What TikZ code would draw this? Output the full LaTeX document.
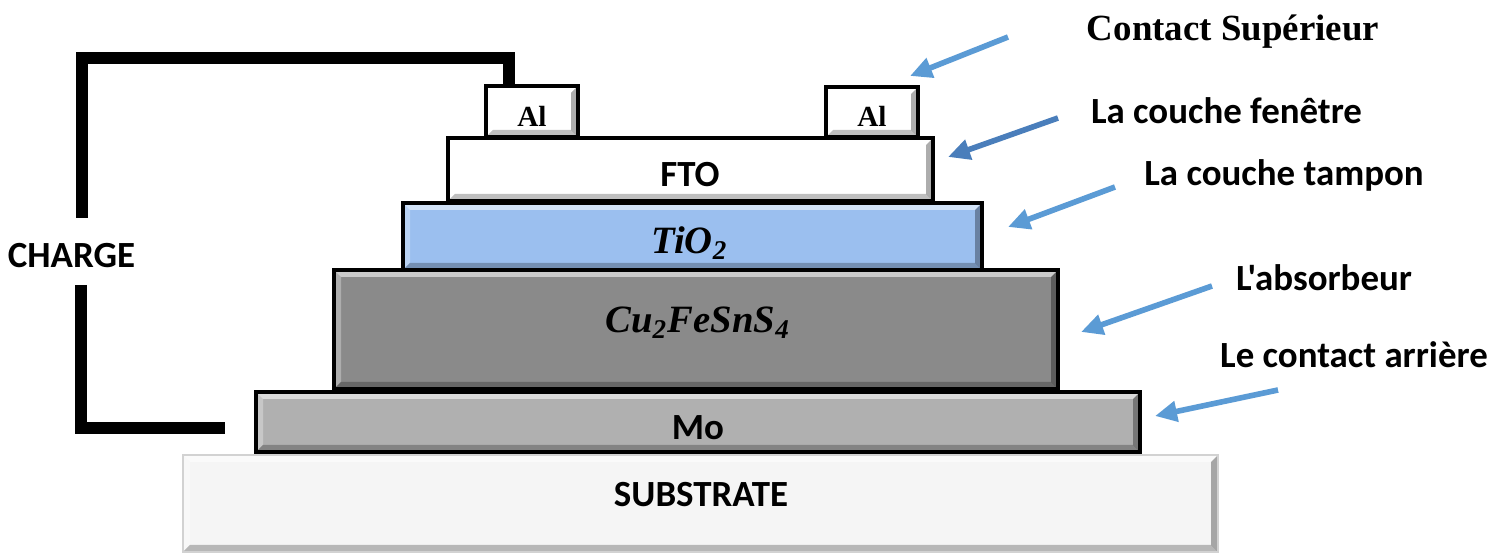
\documentclass[tikz,border=0pt]{standalone}
\usepackage{fontspec}
\setmainfont{Carlito}[Ligatures=TeXOff]
\newfontfamily\serifb{Liberation Serif}
\usetikzlibrary{arrows.meta,calc}
\definecolor{arrblue}{HTML}{5B9BD5}
\definecolor{arrdark}{HTML}{4A7EBB}
\definecolor{tiblue}{HTML}{9BBFEF}
\definecolor{cfss}{HTML}{8A8A8A}
\definecolor{mogray}{HTML}{B0B0B0}
\definecolor{subfill}{HTML}{F5F5F5}
\newcommand\bevw{0.07}
\newcommand\chemit[1]{{\serifb\bfseries\itshape #1}}
\tikzset{
  bevel/.style={path picture={
    \fill[white,opacity=.55] (path picture bounding box.north west) -- (path picture bounding box.north east) -- ($(path picture bounding box.north east)+(-\bevw,-\bevw)$) -- ($(path picture bounding box.north west)+(\bevw,-\bevw)$) -- cycle;
    \fill[white,opacity=.3] (path picture bounding box.north west) -- (path picture bounding box.south west) -- ($(path picture bounding box.south west)+(\bevw,\bevw)$) -- ($(path picture bounding box.north west)+(\bevw,-\bevw)$) -- cycle;
    \fill[black,opacity=.32] (path picture bounding box.north east) -- (path picture bounding box.south east) -- ($(path picture bounding box.south east)+(-\bevw,\bevw)$) -- ($(path picture bounding box.north east)+(-\bevw,-\bevw)$) -- cycle;
    \fill[black,opacity=.25] (path picture bounding box.south west) -- (path picture bounding box.south east) -- ($(path picture bounding box.south east)+(-\bevw,\bevw)$) -- ($(path picture bounding box.south west)+(\bevw,\bevw)$) -- cycle;
  }},
  layer/.style={rectangle, draw=black, line width=1.1pt, inner sep=0pt, bevel},
  lbl/.style={font=\fontsize{10.5}{12}\selectfont\bfseries, anchor=base, inner sep=0pt},
  chemlbl/.style={font=\fontsize{11}{13}\selectfont, anchor=base, inner sep=0pt},
  allbl/.style={font=\serifb\fontsize{8.3}{10}\selectfont\bfseries, anchor=base, inner sep=0pt},
  toplbl/.style={font=\serifb\fontsize{10.5}{12}\selectfont\bfseries, anchor=base, inner sep=0pt},
  wire/.style={line width=3.4pt, line join=miter},
  pointer/.style={arrblue, line width=1.6pt, -{Triangle[length=0.22cm,width=0.2cm]}}
}
\begin{document}
\begin{tikzpicture}
\useasboundingbox (0,0) rectangle (15.05,5.55);
% layers
\node[layer, draw=gray!35, line width=0.5pt, fill=subfill, minimum width=10.35cm, minimum height=0.97cm] (sub) at (7.005,0.515) {};
\node[layer, fill=mogray, minimum width=8.84cm, minimum height=0.60cm] (mo) at (6.98,1.33) {};
\node[layer, fill=cfss, minimum width=7.24cm, minimum height=1.19cm] (absorb) at (6.96,2.255) {};
\node[layer, fill=tiblue, minimum width=5.79cm, minimum height=0.67cm] (tio) at (6.925,3.185) {};
\node[layer, fill=white, minimum width=4.85cm, minimum height=0.63cm] (fto) at (6.905,3.855) {};
\node[layer, fill=white, minimum width=0.92cm, minimum height=0.51cm] (al1) at (5.32,4.435) {};
\node[layer, fill=white, minimum width=0.92cm, minimum height=0.50cm] (al2) at (8.72,4.43) {};
% layer labels
\node[lbl] (subL) at (7.01,0.48) {SUBSTRATE};
\node[lbl] (moL) at (6.98,1.15) {Mo};
\node[chemlbl] (absL) at (6.98,2.22) {\chemit{Cu}\textsubscript{\chemit{2}}\chemit{FeSnS}\textsubscript{\chemit{4}}};
\node[chemlbl] (tioL) at (6.90,3.01) {\chemit{TiO}\textsubscript{\chemit{2}}};
\node[lbl] (ftoL) at (6.90,3.68) {FTO};
\node[allbl] (al1L) at (5.32,4.28) {Al};
\node[allbl] (al2L) at (8.72,4.28) {Al};
% charge circuit
\node[lbl] (charge) at (0.715,2.87) {CHARGE};
\coordinate (wA) at (5.09,4.69);
\coordinate (wB) at (5.09,4.97);
\coordinate (wC) at (0.82,4.97);
\coordinate (wD) at (0.82,3.37);
\coordinate (wE) at (0.81,2.70);
\coordinate (wF) at (0.81,1.27);
\coordinate (wG) at (2.25,1.27);
\draw[wire] (wA) -- (wB) -- (wC) -- (wD);
\draw[wire] (wE) -- (wF) -- (wG);
% side labels
\node[toplbl] (tsup) at (12.33,5.14) {Contact Supérieur};
\node[lbl] (tfen) at (12.265,4.31) {La couche fenêtre};
\node[lbl] (ttam) at (12.84,3.69) {La couche tampon};
\node[lbl] (tabs) at (13.24,2.64) {L'absorbeur};
\node[lbl] (tarr) at (13.54,1.87) {Le contact arrière};
% pointers
\coordinate (p1a) at (10.08,5.18); \coordinate (p1b) at (9.10,4.79);
\coordinate (p2a) at (10.58,4.37); \coordinate (p2b) at (9.48,3.98);
\coordinate (p3a) at (11.15,3.68); \coordinate (p3b) at (10.08,3.28);
\coordinate (p4a) at (12.12,2.69); \coordinate (p4b) at (10.81,2.23);
\coordinate (p5a) at (12.78,1.65); \coordinate (p5b) at (11.55,1.39);
\draw[pointer] (p1a) -- (p1b);
\draw[pointer, arrdark] (p2a) -- (p2b);
\draw[pointer] (p3a) -- (p3b);
\draw[pointer] (p4a) -- (p4b);
\draw[pointer] (p5a) -- (p5b);
\end{tikzpicture}
\end{document}
